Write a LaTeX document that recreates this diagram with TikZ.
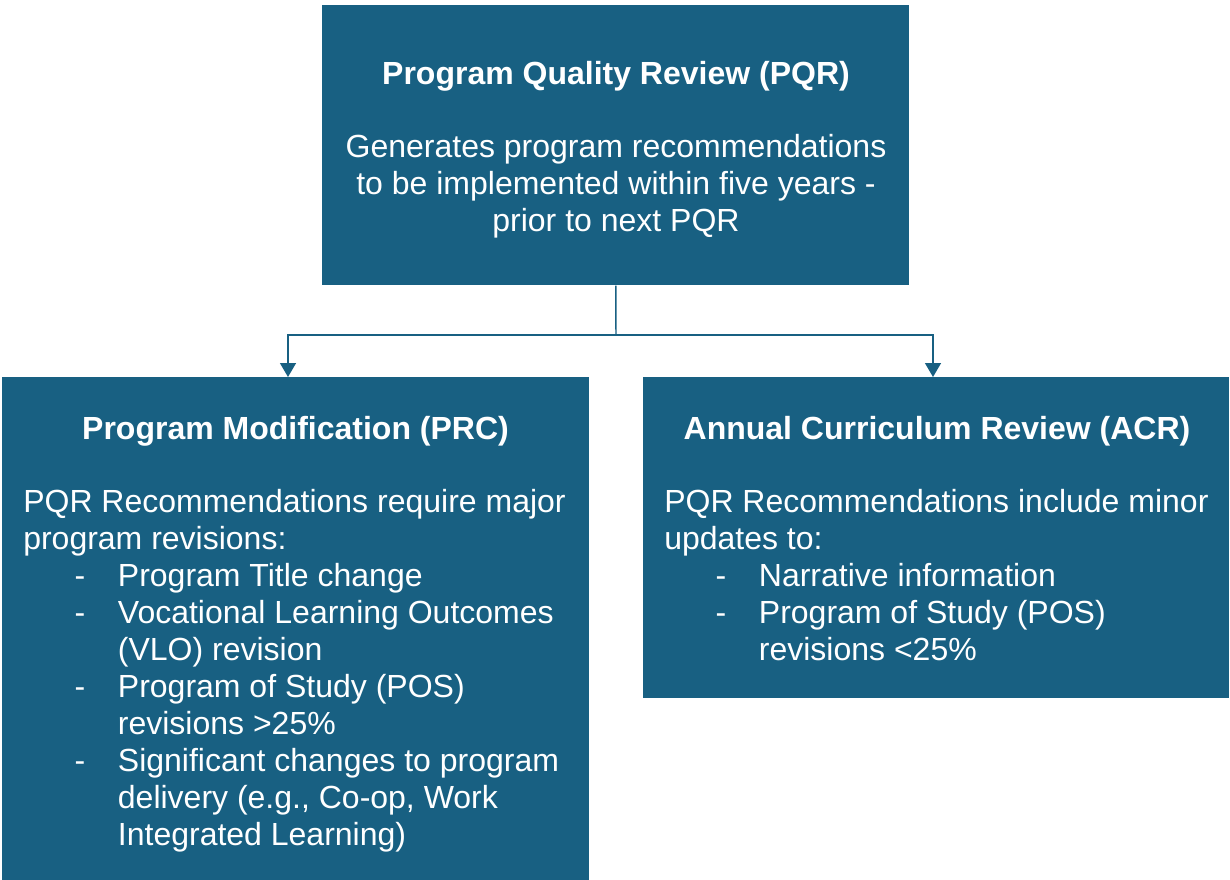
\documentclass[tikz,border=0pt]{standalone}
\usepackage{fontspec}
\setmainfont{Liberation Sans}
\usetikzlibrary{arrows.meta,positioning,calc}
\definecolor{reviewblue}{RGB}{24,96,130}
\tikzset{
  box/.style={fill=reviewblue, inner sep=0pt, anchor=north west},
  heading/.style={text=white, inner sep=0pt, anchor=north, font=\fontsize{24}{27.75}\selectfont\bfseries},
  body/.style={text=white, inner sep=0pt, font=\fontsize{24}{27.75}\selectfont},
  link/.style={draw=reviewblue, line width=1.1pt},
}
\newcommand{\itemline}[1]{\hspace*{38.5pt}\makebox[32.5pt][l]{-}#1}
\newcommand{\moreline}[1]{\hspace*{71pt}#1}

\begin{document}
\begin{tikzpicture}[x=0.75pt,y=-0.75pt]
                \useasboundingbox (0,0) rectangle (1230,880);
                % PQR box
                \node (pqr) [box, minimum width=440.25pt, minimum height=210pt] at (322,5) {};
                \node (pqrtitle) [heading] at (616,61) {Program Quality Review (PQR)};
                \node (pqrtext) [body, anchor=north, align=center] at (616,134)
                    {Generates program recommendations\\to be implemented within five years -\\prior to next PQR};
                % PRC box
                \node (prc) [box, minimum width=440.25pt, minimum height=377.25pt] at (2,377) {};
                \node (prctitle) [heading] at (295.5,416) {Program Modification (PRC)};
                \node (prctext) [body, anchor=north west, align=left] at (23,489)
                    {PQR Recommendations require major\\
                     program revisions:\\
                     \itemline{Program Title change}\\
                     \itemline{Vocational Learning Outcomes}\\
                     \moreline{(VLO) revision}\\
                     \itemline{Program of Study (POS)}\\
                     \moreline{revisions >25\%}\\
                     \itemline{Significant changes to program}\\
                     \moreline{delivery (e.g., Co-op, Work}\\
                     \moreline{Integrated Learning)}};
                % ACR box
                \node (acr) [box, minimum width=439.5pt, minimum height=240.75pt] at (643,377) {};
                \node (acrtitle) [heading] at (937,416) {Annual Curriculum Review (ACR)};
                \node (acrtext) [body, anchor=north west, align=left] at (664,489)
                    {PQR Recommendations include minor\\
                     updates to:\\
                     \itemline{Narrative information}\\
                     \itemline{Program of Study (POS)}\\
                     \moreline{revisions <25\%}};
                % Links
                \coordinate (split) at (616,335);
                \coordinate (prcin) at (288,377);
                \coordinate (acrin) at (933,377);
                \draw [link] (pqr.south) -- (split);
                \draw [link, -{Triangle[width=12pt,length=10.5pt]}] (split) -| (prcin);
                \draw [link, -{Triangle[width=12pt,length=10.5pt]}] (split) -| (acrin);
            \end{tikzpicture}
\end{document}
